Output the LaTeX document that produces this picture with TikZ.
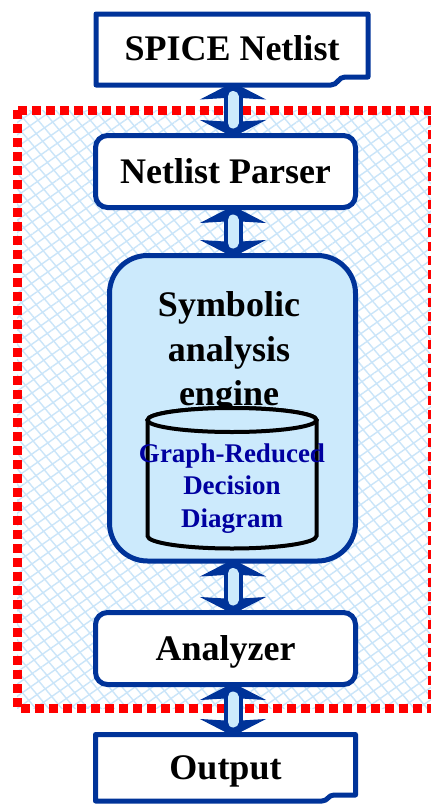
\documentclass[tikz,border=0pt]{standalone}
\usepackage{fontspec}
\setmainfont{Liberation Serif}
\usetikzlibrary{arrows.meta,patterns.meta}
\definecolor{dblue}{RGB}{0,51,153}
\definecolor{lblue}{RGB}{204,234,252}
\definecolor{hatchc}{RGB}{202,229,249}
\definecolor{tblue}{RGB}{0,0,160}
\pgfdeclarelayer{bg}
\pgfsetlayers{bg,main}
\begin{document}
\begin{tikzpicture}[x=1pt,y=-1pt,
  box/.style={draw=dblue, line width=5pt, fill=white, rounded corners=12pt,
    minimum width=260pt, minimum height=72pt, inner sep=0pt},
  lbl/.style={font=\fontsize{36}{45}\selectfont\bfseries, text=black,
    text height=24pt, text depth=0pt},
  docbox/.style={draw=dblue, line width=5pt, fill=white, line join=round},
  heads/.style={draw=dblue, fill=dblue, line width=1pt,
    {Stealth[length=17pt,width=66pt,inset=2pt]}-{Stealth[length=17pt,width=66pt,inset=2pt]},
    shorten <=-4pt, shorten >=-4pt},
  pill/.style={draw=dblue, line width=4pt, double=lblue, double distance=11pt,
    line cap=round, shorten <=10pt, shorten >=10pt},
  cyl/.style={draw=black, line width=4pt, fill=lblue},
]
\useasboundingbox (0,0) rectangle (431,806);
\coordinate (ax) at (233,0);

% SPICE Netlist (document shape)
\draw[docbox] (96,14) -- (368,14) -- (368,77) -- (345,77)
  .. controls (338,77) and (338,85) .. (331,85) -- (96,85) -- cycle;
\node[lbl, minimum width=272pt, minimum height=71pt, inner sep=0pt, outer sep=2.5pt]
  (spice) at (232,48.5) {SPICE Netlist};

% Netlist Parser
\node[box, lbl] (parser) at (225.5,171.5) {Netlist Parser};

% Symbolic analysis engine
\node[box, fill=lblue, rounded corners=38pt, minimum width=246pt, minimum height=305.5pt]
  (engine) at (232.5,408.25) {};
\node[font=\fontsize{36}{44.5}\selectfont\bfseries, align=center, inner sep=0pt]
  (engtxt) at (229,352.5) {Symbolic\\analysis\\engine};
\draw[cyl] (147.5,420) -- (147.5,536) arc[start angle=180, end angle=360, x radius=84.5pt, y radius=12.5pt]
  -- (316.5,420) arc[start angle=0, end angle=180, x radius=84.5pt, y radius=12pt] -- cycle;
\draw[cyl] (232,420) ellipse[x radius=84.5pt, y radius=12pt];
\node[font=\fontsize{27}{32.5}\selectfont\bfseries, text=tblue, align=center, inner sep=0pt]
  (grdd) at (232,488.3) {Graph-Reduced\\Decision\\Diagram};

% Analyzer
\node[box, lbl] (analyzer) at (225.5,648.5) {Analyzer};

% Output (document shape)
\draw[docbox] (95.5,734.5) -- (355.5,734.5) -- (355.5,795) -- (334,795)
  .. controls (328,795) and (328,801) .. (322,801) -- (95.5,801) -- cycle;
\node[lbl, minimum width=260pt, minimum height=66.5pt, inner sep=0pt, outer sep=2.5pt]
  (output) at (225.5,767.75) {Output};

\begin{pgfonlayer}{bg}
  % hatched region with red dotted border
  \fill[white] (17,110) rectangle (432,708);
  \fill[pattern={Lines[angle=35,distance=10pt,line width=1.4pt]}, pattern color=hatchc]
    (17,110) rectangle (432,708);
  \fill[pattern={Lines[angle=-50,distance=10pt,line width=1.4pt]}, pattern color=hatchc]
    (17,110) rectangle (432,708);
  \draw[red, line width=9pt, dash pattern=on 9pt off 5pt] (17,110) rectangle (432,708);
  % connectors
  \draw[heads] (spice.south -| ax) -- (parser.north -| ax);
  \draw[heads] (parser.south -| ax) -- (engine.north -| ax);
  \draw[heads] (engine.south -| ax) -- (analyzer.north -| ax);
  \draw[heads] (analyzer.south -| ax) -- (output.north -| ax);
  \draw[pill] (spice.south -| ax) -- (parser.north -| ax);
  \draw[pill] (parser.south -| ax) -- (engine.north -| ax);
  \draw[pill] (engine.south -| ax) -- (analyzer.north -| ax);
  \draw[pill] (analyzer.south -| ax) -- (output.north -| ax);
\end{pgfonlayer}
\end{tikzpicture}
\end{document}
